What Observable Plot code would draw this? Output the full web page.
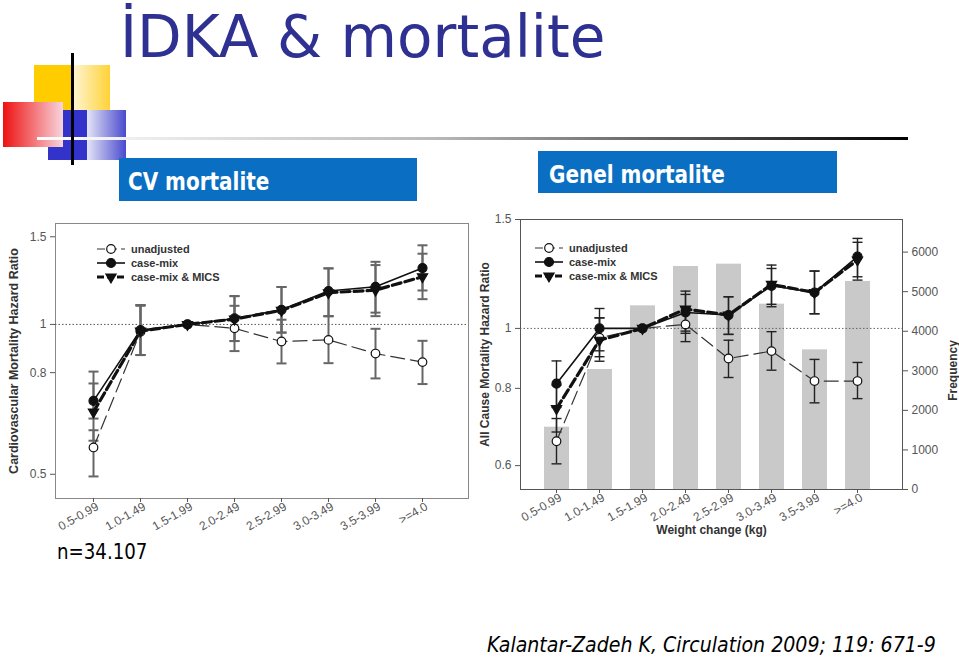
<!DOCTYPE html>
<html><head><meta charset="utf-8">
<script src="https://cdn.jsdelivr.net/npm/d3@7"></script>
<script src="https://cdn.jsdelivr.net/npm/@observablehq/plot@0.6"></script>
<style>
body{margin:0;background:#fff;width:959px;height:657px;position:relative;overflow:hidden;font-family:"DejaVu Sans",sans-serif}
.abs{position:absolute}
</style></head><body>
<svg id="deco" class="abs" style="left:0;top:0" width="959" height="657">
  <defs>
    <linearGradient id="gy" x1="0" x2="1" y1="0" y2="0">
      <stop offset="0" stop-color="#FFCC00"/><stop offset="0.5" stop-color="#FFCC00"/>
      <stop offset="0.5" stop-color="#FFF6D8"/><stop offset="1" stop-color="#FFD236"/>
    </linearGradient>
    <linearGradient id="gr" x1="0" x2="1" y1="0" y2="0">
      <stop offset="0" stop-color="#EE1111"/><stop offset="1" stop-color="#F8D4DC"/>
    </linearGradient>
    <linearGradient id="gb" x1="0" x2="1" y1="0" y2="0">
      <stop offset="0" stop-color="#3333CC"/><stop offset="0.5" stop-color="#3333CC"/>
      <stop offset="0.5" stop-color="#E4E4F6"/><stop offset="1" stop-color="#4A4ACF"/>
    </linearGradient>
    <linearGradient id="gl" x1="0" x2="1" y1="0" y2="0">
      <stop offset="0" stop-color="#FFFFFF"/><stop offset="0.45" stop-color="#BBBBBB"/><stop offset="1" stop-color="#000000"/>
    </linearGradient>
  </defs>
  <rect x="34" y="65" width="76" height="45" fill="url(#gy)"/>
  <rect x="48" y="110" width="78" height="50" fill="url(#gb)"/>
  <rect x="3" y="102" width="60" height="45" fill="url(#gr)"/>
  <rect x="37" y="137" width="871" height="3" fill="url(#gl)"/>
  <rect x="71" y="53" width="3" height="112" fill="#000"/>
  <text x="120" y="57" font-size="58" fill="#2E3192" font-family="DejaVu Sans">İDKA &amp; mortalite</text>
  <rect x="119" y="158" width="298" height="43" fill="#0A6FC2"/>
  <text transform="translate(128,190) scale(1,1.2)" font-size="20" font-weight="bold" fill="#fff" font-family="DejaVu Sans">CV mortalite</text>
  <rect x="538" y="151" width="299" height="42" fill="#0A6FC2"/>
  <text transform="translate(549,183) scale(1,1.2)" font-size="20" font-weight="bold" fill="#fff" font-family="DejaVu Sans">Genel mortalite</text>
  <text transform="translate(57,559) scale(1,1.2)" font-size="18.2" fill="#000" font-family="DejaVu Sans">n=34.107</text>
  <text transform="translate(487,652) scale(1,1.16)" font-size="19" font-style="italic" fill="#000" font-family="DejaVu Sans">Kalantar-Zadeh K, Circulation 2009; 119: 671-9</text>
</svg>
<div id="cv" class="abs" style="left:0;top:215px"></div>
<div id="acBars" class="abs" style="left:475px;top:205px"></div>
<div id="acLines" class="abs" style="left:475px;top:205px"></div>
<script>
const cats = ["0.5-0.99","1.0-1.49","1.5-1.99","2.0-2.49","2.5-2.99","3.0-3.49","3.5-3.99",">=4.0"];
const seriesNames = ["unadjusted","case-mix","case-mix & MICS"];

// Cardiovascular mortality hazard ratios
const cvUnadj   = [0.566, 0.967, 1.0, 0.982, 0.924, 0.931, 0.874, 0.840];
const cvUnadjLo = [0.495, 0.868, null, 0.884, 0.835, 0.836, 0.779, 0.759];
const cvUnadjHi = [0.613, 1.090, null, 1.090, 1.022, 1.039, 0.980, 0.927];
const cvCase    = [0.702, 0.974, 1.0, 1.028, 1.070, 1.167, 1.190, 1.298];
const cvCaseLo  = [0.647, 0.868, null, 0.926, 0.963, 1.039, 1.056, 1.170];
const cvCaseHi  = [0.804, 1.094, null, 1.140, 1.189, 1.296, 1.336, 1.442];
const cvMics    = [0.667, 0.970, 1.0, 1.025, 1.067, 1.158, 1.172, 1.247];
const cvMicsLo  = [0.584, 0.868, null, 0.926, 0.963, 1.039, 1.039, 1.124];
const cvMicsHi  = [0.761, 1.094, null, 1.140, 1.189, 1.296, 1.316, 1.387];

// All-cause mortality hazard ratios
const acUnadj   = [0.657, 0.966, 1.0, 1.015, 0.894, 0.919, 0.822, 0.822];
const acUnadjLo = [0.604, 0.900, null, 0.952, 0.833, 0.856, 0.758, 0.770];
const acUnadjHi = [0.715, 1.040, null, 1.080, 0.957, 0.988, 0.891, 0.881];
const acCase    = [0.814, 1.000, 1.0, 1.061, 1.051, 1.172, 1.143, 1.306];
const acCaseLo  = [0.745, 0.920, null, 0.982, 0.978, 1.094, 1.056, 1.212];
const acCaseHi  = [0.886, 1.077, null, 1.135, 1.125, 1.266, 1.238, 1.398];
const acMics    = [0.742, 0.957, 1.0, 1.075, 1.051, 1.178, 1.143, 1.290];
const acMicsLo  = [0.680, 0.885, null, 0.990, 0.978, 1.084, 1.056, 1.197];
const acMicsHi  = [0.810, 1.040, null, 1.149, 1.125, 1.250, 1.238, 1.378];

// Frequency (patients) per weight-change category
const freq = [1575, 3033, 4642, 5636, 5695, 4684, 3530, 5257];

const cvTicks = [0.5, 0.8, 1, 1.5];
const acTicks = [0.6, 0.8, 1, 1.5];
const freqTicks = [0, 1000, 2000, 3000, 4000, 5000, 6000];

const FONT = "'Liberation Sans', Arial, sans-serif";
const styles = {
  "unadjusted":      {stroke:"#333", sw:1.2, dash:"14,6", symbol:"circle", fill:"white", rotate:0, r:4.3},
  "case-mix":        {stroke:"#111", sw:1.6, dash:null, symbol:"circle", fill:"#111", rotate:0, r:4.5},
  "case-mix & MICS": {stroke:"#111", sw:3.2, dash:"9,4", symbol:"triangle", fill:"#111", rotate:180, r:3.8}
};
const cap = {draw(ctx, size){ const r = Math.sqrt(size/Math.PI); ctx.moveTo(-r,0); ctx.lineTo(r,0); }};

function makeRows(v, lo, hi, name){ return cats.map((c,i)=>({cat:c, series:name, v:v[i], lo:lo[i], hi:hi[i]})); }

function seriesMarks(rowsList, ebStroke, ebWidth, capR){
  const all = rowsList.flat();
  const ci = all.filter(d => d.lo != null);
  const marks = [
    Plot.ruleX(ci, {x:"cat", y1:"lo", y2:"hi", stroke:ebStroke, strokeWidth:ebWidth}),
    Plot.dot(ci, {x:"cat", y:"lo", symbol:cap, r:capR, fill:"none", stroke:ebStroke, strokeWidth:ebWidth}),
    Plot.dot(ci, {x:"cat", y:"hi", symbol:cap, r:capR, fill:"none", stroke:ebStroke, strokeWidth:ebWidth})
  ];
  for (const rows of rowsList){
    const s = styles[rows[0].series];
    marks.push(Plot.line(rows, {x:"cat", y:"v", stroke:s.stroke, strokeWidth:s.sw, strokeDasharray:s.dash || undefined}));
  }
  for (const rows of rowsList){
    const s = styles[rows[0].series];
    marks.push(Plot.dot(rows, {x:"cat", y:"v", symbol:s.symbol, rotate:s.rotate, r:s.r, fill:s.fill, stroke:"#111", strokeWidth:1.2}));
  }
  return marks;
}

function xAxisMarks(){
  return [
    Plot.axisX({tickSize: 4, tickFormat: () => "", label: null}),
    Plot.axisX({tickSize: 0, tickRotate: -30, textAnchor: "end", tickPadding: 7, dx: 4, label: null})
  ];
}

function addLegend(svg, x0, y0, step){
  const g = d3.select(svg).append("g").attr("font-family", FONT).attr("font-weight","bold").attr("font-size",11)
    .attr("fill","#333").attr("text-anchor","start");
  seriesNames.forEach((name,i)=>{
    const s = styles[name], y = y0 + i*step;
    g.append("line").attr("x1",x0).attr("x2",x0+28).attr("y1",y).attr("y2",y)
      .attr("stroke",s.stroke).attr("stroke-width",s.sw).attr("stroke-dasharray", s.dash ? (name==="unadjusted" ? "8,4" : "7,3") : null);
    const sym = d3.symbol(s.symbol==="circle" ? d3.symbolCircle : d3.symbolTriangle, Math.PI*s.r*s.r)();
    g.append("path").attr("d", sym).attr("transform",`translate(${x0+14},${y}) rotate(${s.rotate})`)
      .attr("fill", s.fill).attr("stroke","#111").attr("stroke-width",1.2);
    g.append("text").attr("x", x0+34).attr("y", y).attr("dy","0.35em").text(name);
  });
}

// ---------- Left: CV mortality ----------
const cvRows = [makeRows(cvUnadj,cvUnadjLo,cvUnadjHi,"unadjusted"), makeRows(cvCase,cvCaseLo,cvCaseHi,"case-mix"), makeRows(cvMics,cvMicsLo,cvMicsHi,"case-mix & MICS")];
const cv = Plot.plot({
  width: 470, height: 330,
  marginLeft: 55, marginRight: 2, marginTop: 8, marginBottom: 47,
  style: {fontFamily: FONT, fontSize: "12px", color: "#555", background: "transparent"},
  x: {type: "point", domain: cats, range: [93, 422], padding: 0, axis: null},
  y: {type: "log", domain: [0.447, 1.595], axis: null},
  marks: [
    Plot.frame({stroke: "#888"}),
    Plot.ruleY([1], {stroke: "#555", strokeDasharray: "1.5,2"}),
    Plot.axisY({ticks: cvTicks, tickFormat: d => String(d), tickSize: 5, label: null}),
    ...xAxisMarks(),
    Plot.text(["Cardiovascular Mortality Hazard Ratio"], {frameAnchor: "left", textAnchor: "middle", dx: -42, rotate: -90, fontWeight: "bold", fontSize: 12.5, fill: "#333"}),
    ...seriesMarks(cvRows, "#666", 2, 5)
  ]
});
document.getElementById("cv").appendChild(cv);
addLegend(cv, 97, 34, 14);

// ---------- Right: All-cause mortality ----------
const freqRows = cats.map((c,i)=>({cat:c, f:freq[i]}));
const bars = Plot.plot({
  width: 484, height: 340,
  marginLeft: 45, marginRight: 57, marginTop: 14, marginBottom: 56,
  style: {fontFamily: FONT, fontSize: "12px", color: "#555", background: "transparent"},
  x: {type: "band", domain: cats, range: [59.1, 404.3], paddingInner: 0.42, paddingOuter: 0.21, axis: null},
  y: {domain: [0, 6824], axis: null},
  marks: [
    Plot.barY(freqRows, {x: "cat", y: "f", fill: "#c9c9c9"}),
    Plot.axisY({anchor: "right", ticks: freqTicks, tickFormat: d3.format("d"), tickSize: 5, tickPadding: 4, label: null}),
    Plot.text(["Frequency"], {frameAnchor: "right", textAnchor: "middle", dx: 51, dy: 16, rotate: -90, fontWeight: "bold", fontSize: 12, fill: "#333"})
  ]
});
document.getElementById("acBars").appendChild(bars);

const acRows = [makeRows(acUnadj,acUnadjLo,acUnadjHi,"unadjusted"), makeRows(acCase,acCaseLo,acCaseHi,"case-mix"), makeRows(acMics,acMicsLo,acMicsHi,"case-mix & MICS")];
const ac = Plot.plot({
  width: 484, height: 340,
  marginLeft: 45, marginRight: 57, marginTop: 14, marginBottom: 56,
  style: {fontFamily: FONT, fontSize: "12px", color: "#555", background: "transparent"},
  x: {type: "point", domain: cats, range: [80.7, 382.7], padding: 0, axis: null},
  y: {type: "log", domain: [0.549, 1.5], axis: null},
  marks: [
    Plot.frame({stroke: "#555"}),
    Plot.ruleY([1], {stroke: "#666", strokeDasharray: "1.5,2"}),
    Plot.axisY({ticks: acTicks, tickFormat: d => String(d), tickSize: 5, label: null}),
    ...xAxisMarks(),
    Plot.text(["All Cause Mortality Hazard Ratio"], {frameAnchor: "left", textAnchor: "middle", dx: -35, rotate: -90, fontWeight: "bold", fontSize: 12, fill: "#333"}),
    Plot.text(["Weight change (kg)"], {frameAnchor: "bottom", textAnchor: "middle", dy: 41, lineAnchor: "middle", fontWeight: "bold", fontSize: 12, fill: "#333"}),
    ...seriesMarks(acRows, "#222", 1.4, 5)
  ]
});
document.getElementById("acLines").appendChild(ac);
addLegend(ac, 60, 43, 14);
</script>
</body></html>
